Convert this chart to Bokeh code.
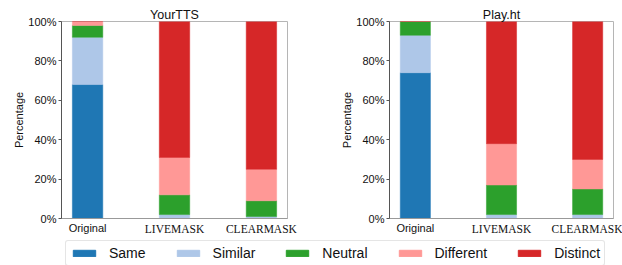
from bokeh.plotting import figure
from bokeh.layouts import column, row
from bokeh.models import (FixedTicker, Legend, LegendItem, ColumnDataSource,
                          Range1d, LinearAxis)
from bokeh.embed import file_html
from bokeh.resources import INLINE

# ---- data ----
categories = ["Original", "LIVEMASK", "CLEARMASK"]
x_pos = [0, 1, 2]
levels = ["Same", "Similar", "Neutral", "Different", "Distinct"]
colors = ["#1f77b4", "#aec7e8", "#2ca02c", "#ff9896", "#d62728"]

yourtts_same = [68, 0, 0]
yourtts_similar = [24, 2, 1]
yourtts_neutral = [6, 10, 8]
yourtts_different = [2, 19, 16]
yourtts_distinct = [0, 69, 75]

playht_same = [74, 0, 0]
playht_similar = [19, 2, 2]
playht_neutral = [7, 15, 13]
playht_different = [0, 21, 15]
playht_distinct = [0, 62, 70]

y_ticks = [0, 20, 40, 60, 80, 100]
y_tick_labels = ["0%", "20%", "40%", "60%", "80%", "100%"]

SANS = "Liberation Sans"
SERIF = "Liberation Serif"


def make_panel(title, series, width, left, right):
    p = figure(width=width, height=237, x_range=Range1d(-0.3, 2.3),
               y_range=Range1d(0, 100), output_backend="svg",
               toolbar_location=None, min_border_left=left,
               min_border_right=right, min_border_top=21,
               min_border_bottom=19, title=title)
    data = {"x": x_pos}
    for lev, vals in zip(levels, series):
        data[lev] = vals
    src = ColumnDataSource(data)
    p.vbar_stack(levels, x="x", width=0.35, fill_color=colors,
                 line_color=colors, line_width=0.5, source=src)
    p.grid.visible = False
    p.outline_line_color = "#b5b5b5"
    p.outline_line_width = 1
    p.background_fill_color = "white"

    p.title.text_font = SANS
    p.title.text_font_size = "12.5px"
    p.title.text_font_style = "normal"
    p.title.align = "center"
    p.title.text_color = "#111111"
    p.title.standoff = 0

    ya = p.yaxis[0]
    ya.ticker = FixedTicker(ticks=y_ticks)
    ya.major_label_overrides = {t: l for t, l in zip(y_ticks, y_tick_labels)}
    ya.minor_tick_line_color = None
    ya.major_tick_out = 3
    ya.major_tick_in = 0
    ya.major_label_standoff = 2
    ya.major_label_text_font = SANS
    ya.major_label_text_font_size = "11px"
    ya.major_label_text_color = "#111111"
    ya.axis_line_color = "#555555"
    ya.major_tick_line_color = "#555555"
    ya.axis_label = "Percentage"
    ya.axis_label_text_font = SANS
    ya.axis_label_text_font_size = "11px"
    ya.axis_label_text_font_style = "normal"
    ya.axis_label_text_color = "#111111"
    ya.axis_label_standoff = 0

    xa = p.xaxis[0]
    xa.ticker = FixedTicker(ticks=[x_pos[0]])
    xa.major_label_overrides = {x_pos[0]: categories[0]}
    xa.minor_tick_line_color = None
    xa.major_tick_out = 0
    xa.major_tick_in = 0
    xa.major_label_standoff = 3
    xa.major_label_text_font = SANS
    xa.major_label_text_font_size = "11px"
    xa.major_label_text_color = "#111111"
    xa.axis_line_color = "#999999"

    xa2 = LinearAxis(ticker=FixedTicker(ticks=x_pos[1:]),
                     major_label_overrides={x: c for x, c in zip(x_pos[1:], categories[1:])})
    xa2.axis_line_color = None
    xa2.major_tick_line_color = None
    xa2.minor_tick_line_color = None
    xa2.major_tick_out = 0
    xa2.major_tick_in = 0
    xa2.major_label_standoff = -14
    xa2.major_label_text_font = SERIF
    xa2.major_label_text_font_size = "11.5px"
    xa2.major_label_text_color = "#111111"
    p.add_layout(xa2, "below")
    return p


p1 = make_panel("YourTTS", [yourtts_same, yourtts_similar, yourtts_neutral,
                            yourtts_different, yourtts_distinct], 311, 61, 24)
p2 = make_panel("Play.ht", [playht_same, playht_similar, playht_neutral,
                            playht_different, playht_distinct], 311, 78, 9)

lf = figure(width=622, height=28, x_range=Range1d(0, 1), y_range=Range1d(0, 1),
            output_backend="svg", toolbar_location=None, min_border=0)
lf.axis.visible = False
lf.grid.visible = False
lf.outline_line_color = None
items = []
for lev, c in zip(levels, colors):
    r = lf.vbar(x=[5], top=[1], width=0.1, fill_color=c, line_color=c)
    items.append(LegendItem(label=lev, renderers=[r]))
leg = Legend(items=items, orientation="horizontal", location=(65, -1),
             glyph_width=28, glyph_height=8, label_standoff=11, spacing=28,
             padding=4, margin=0, label_height=14,
             label_text_font=SANS, label_text_font_size="14px",
             label_text_color="#111111",
             border_line_color="#cccccc", border_line_width=1)
try:
    leg.border_radius = 3
except Exception:
    pass
lf.add_layout(leg, "center")

layout = column(row(p1, p2, spacing=0), lf, spacing=0)
open("out.html", "w").write(file_html(layout, INLINE))
